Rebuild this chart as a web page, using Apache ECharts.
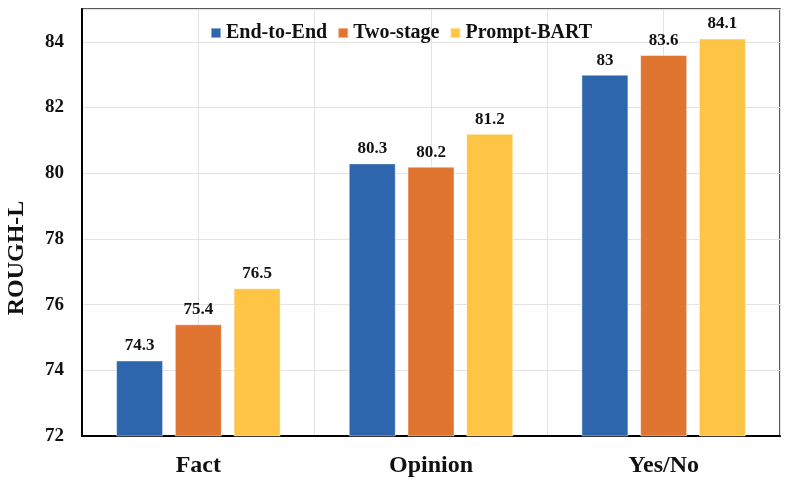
<!DOCTYPE html>
<html>
<head>
<meta charset="utf-8">
<script src="https://cdn.jsdelivr.net/npm/echarts@6/dist/echarts.min.js"></script>
<style>html,body{margin:0;padding:0;background:#fff}#c{width:789px;height:484px}</style>
</head>
<body>
<div id="c"></div>
<script>
var categories = ['Fact', 'Opinion', 'Yes/No'];
var endToEnd = [74.3, 80.3, 83];
var twoStage = [75.4, 80.2, 83.6];
var promptBart = [76.5, 81.2, 84.1];
var seriesNames = ['End-to-End', 'Two-stage', 'Prompt-BART'];
var yTicks = [72, 74, 76, 78, 80, 82, 84];
var halfCats = ['a', 'b', 'c', 'd', 'e', 'f'];

var font = 'Liberation Serif';
var colors = ['#2D66AD', '#E07431', '#FEC446'];
var chart = echarts.init(document.getElementById('c'), null, {renderer: 'canvas'});

function mk(name, data, i) {
  return {
    name: name, type: 'bar', data: data, xAxisIndex: 0,
    barWidth: 47, barGap: '25%',
    itemStyle: {color: colors[i], borderColor: 'rgba(255,255,255,0.45)', borderWidth: 1},
    label: {show: true, position: 'top', distance: 6, fontFamily: font, fontWeight: 'bold', fontSize: 17, color: '#111'}
  };
}

chart.setOption({
  animation: false,
  color: colors,
  grid: {left: 82, right: 9, top: 9, bottom: 48, show: true, borderColor: '#222', borderWidth: 1.5},
  legend: {
    data: seriesNames, left: 205, top: 18, icon: 'rect', itemWidth: 10, itemHeight: 10, itemGap: 10,
    textStyle: {fontFamily: font, fontWeight: 'bold', fontSize: 20, color: '#111'}
  },
  xAxis: [{
    type: 'category', data: categories, boundaryGap: true,
    axisLine: {lineStyle: {color: '#000', width: 2}},
    axisTick: {show: false},
    splitLine: {show: false},
    axisLabel: {fontFamily: font, fontWeight: 'bold', fontSize: 24, color: '#111', margin: 18}
  }, {
    type: 'category', data: halfCats, boundaryGap: true, position: 'bottom',
    axisLine: {show: false}, axisTick: {show: false}, axisLabel: {show: false},
    splitLine: {show: true, lineStyle: {color: '#e3e3e3', width: 1}}
  }],
  yAxis: {
    type: 'value', min: 72, max: 85, interval: 2,
    axisLine: {show: true, lineStyle: {color: '#000', width: 2}},
    axisTick: {show: false},
    splitLine: {lineStyle: {color: '#e3e3e3', width: 1}},
    axisLabel: {
      fontFamily: font, fontWeight: 'bold', fontSize: 19, color: '#111', margin: 18,
      formatter: function (v) { return yTicks.indexOf(v) >= 0 ? String(v) : ''; }
    }
  },
  graphic: [{
    type: 'text', x: 17, y: 258, rotation: Math.PI / 2,
    style: {text: 'ROUGH-L', fontFamily: font, fontWeight: 'bold', fontSize: 24, fill: '#111', align: 'center', verticalAlign: 'middle'}
  }],
  series: [mk(seriesNames[0], endToEnd, 0), mk(seriesNames[1], twoStage, 1), mk(seriesNames[2], promptBart, 2)]
});
</script>
</body>
</html>
